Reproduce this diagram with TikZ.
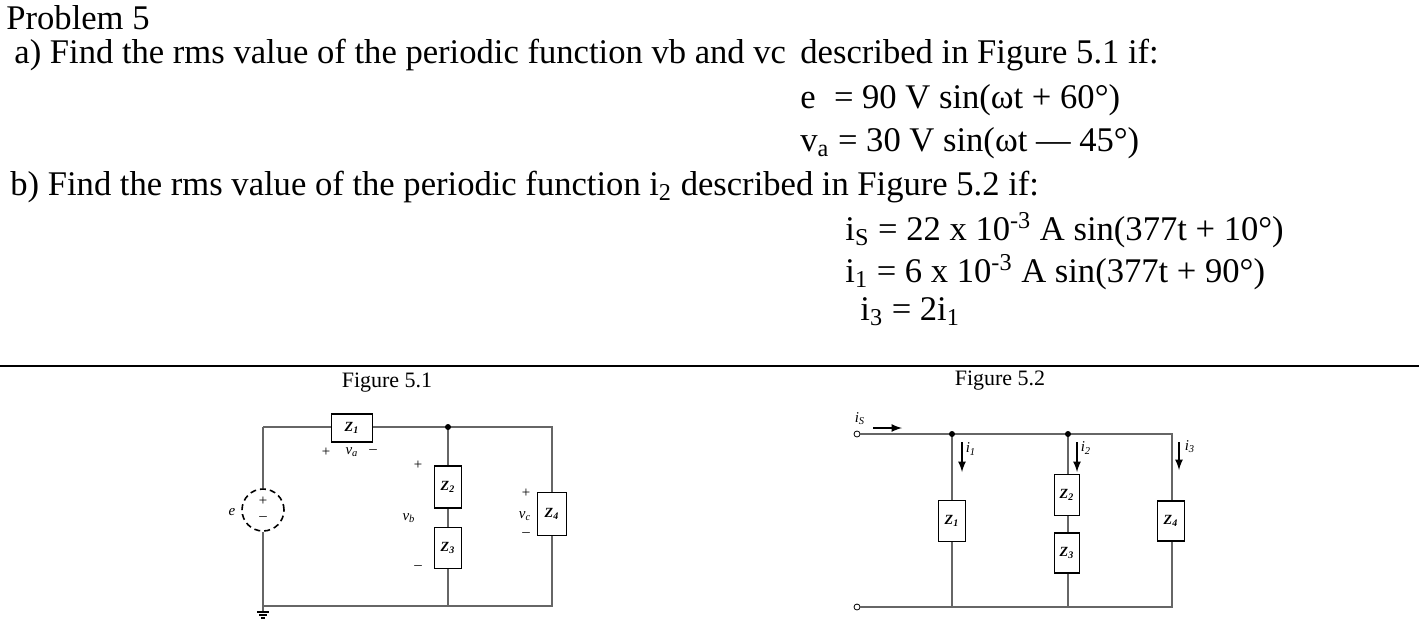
\documentclass[tikz,border=0pt]{standalone}
\usepackage{fontspec}
\setmainfont{Liberation Serif}
\begin{document}
\begin{tikzpicture}[x=0.5pt,y=-0.5pt,
  txt/.style={anchor=west,inner sep=0,font=\fontsize{17.3}{20}\selectfont},
  figcap/.style={inner sep=0,font=\fontsize{11}{13}\selectfont},
  imp/.style={draw,thick,fill=white,inner sep=0,font=\fontsize{7}{8}\selectfont\itshape\bfseries},
  lab/.style={inner sep=0,font=\fontsize{7.5}{8}\selectfont\itshape},
  w/.style={draw=gray!80!black,line width=1.2pt},
  dot/.style={circle,fill,inner sep=0,minimum size=3pt},
  term/.style={circle,draw,inner sep=0,minimum size=3pt}]
\useasboundingbox (0,0) rectangle (1419,633);
% text
\node[txt] (p) at (6,18) {Problem 5};
\node[txt] (a1) at (14,55) {a) Find the rms value of the periodic function vb and vc};
\node[txt] (a2) at (800,55) {described in Figure 5.1 if:};
\node[txt] (a3) at (800,100) {e\; = 90 V sin(ωt + 60°)};
\node[txt] (a4) at (800,143) {v\textsubscript{a} = 30 V sin(ωt — 45°)};
\node[txt] (b1) at (10,187) {b) Find the rms value of the periodic function i\textsubscript{2} described in};
\node[txt] (b2) at (857,187) {Figure 5.2 if:};
\node[txt] (b3) at (845,230) {i\textsubscript{S} = 22 x 10\textsuperscript{-3} A sin(377t + 10°)};
\node[txt] (b4) at (845,272) {i\textsubscript{1} = 6 x 10\textsuperscript{-3} A sin(377t + 90°)};
\node[txt] (b5) at (860,312) {i\textsubscript{3} = 2i\textsubscript{1}};
\coordinate (r1) at (0,366); \coordinate (r2) at (1419,366);
\draw[line width=1pt] (r1) -- (r2);
\node[figcap] (c1) at (387,383) {Figure 5.1};
\node[figcap] (c2) at (1000,381) {Figure 5.2};
% Figure 5.1
\coordinate (tl) at (263,427); \coordinate (bl) at (263,606);
\coordinate (n1) at (448,427); \coordinate (tr) at (552,427);
\coordinate (bm) at (448,606); \coordinate (br) at (552,606);
\node[circle,draw,densely dashed,thick,minimum size=21pt,inner sep=0] (src) at (263,510) {};
\draw[w] (tl) -- (src.north) (src.south) -- (bl) -- (br) -- (tr) -- (tl);
\draw[w] (n1) -- (bm);
\node[imp,minimum width=20.5pt,minimum height=14pt] (z1) at (352,428) {Z\textsubscript{1}};
\node[imp,minimum width=13.5pt,minimum height=21pt] (z2) at (448,487) {Z\textsubscript{2}};
\node[imp,minimum width=13.5pt,minimum height=20.5pt] (z3) at (448,548) {Z\textsubscript{3}};
\node[imp,minimum width=14.5pt,minimum height=21.5pt] (z4) at (552,514) {Z\textsubscript{4}};
\node[dot] (d1) at (n1) {};
\node[lab] at (263,501) {+}; \node[lab] at (263,519) {--};
\node[lab] (le) at (232,512) {e};
\node[lab] at (326,452) {+}; \node[lab] at (352,452) {v\textsubscript{a}}; \node[lab] at (373,452) {--};
\node[lab] at (418,465) {+}; \node[lab] at (409,518) {v\textsubscript{b}}; \node[lab] at (418,568) {--};
\node[lab] at (526,493) {+}; \node[lab] at (525,516) {v\textsubscript{c}}; \node[lab] at (526,535) {--};
\coordinate (g0) at (263,612);
\draw[w] (bl) -- (g0);
\draw[thick] (257,612) -- (269,612) (259,615) -- (267,615) (261,618) -- (265,618);
% Figure 5.2
\node[term] (t1) at (857,434) {}; \node[term] (t2) at (857,607) {};
\coordinate (m1) at (952,434); \coordinate (m2) at (1068,434); \coordinate (m3) at (1172,434);
\coordinate (q1) at (952,607); \coordinate (q2) at (1068,607); \coordinate (q3) at (1172,607);
\draw[w] (t1) -- (m3) -- (q3) -- (t2);
\draw[w] (m1) -- (q1) (m2) -- (q2);
\node[imp,minimum width=13.5pt,minimum height=20.5pt] (y1) at (952,521) {Z\textsubscript{1}};
\node[imp,minimum width=12.5pt,minimum height=20.5pt] (y2) at (1067,495) {Z\textsubscript{2}};
\node[imp,minimum width=12.5pt,minimum height=20pt] (y3) at (1067,553) {Z\textsubscript{3}};
\node[imp,minimum width=13.5pt,minimum height=20pt] (y4) at (1171,521) {Z\textsubscript{4}};
\node[dot] at (m1) {}; \node[dot] at (m2) {};
\draw[thick,-latex] (873,428) -- (902,428);
\node[lab] at (860,419) {i\textsubscript{S}};
\draw[thick,-latex] (962,442) -- (962,472); \node[lab] at (971,449) {i\textsubscript{1}};
\draw[thick,-latex] (1077,442) -- (1077,472); \node[lab] at (1086,448) {i\textsubscript{2}};
\draw[thick,-latex] (1179,442) -- (1179,470); \node[lab] at (1190,447) {i\textsubscript{3}};
\end{tikzpicture}
\end{document}
